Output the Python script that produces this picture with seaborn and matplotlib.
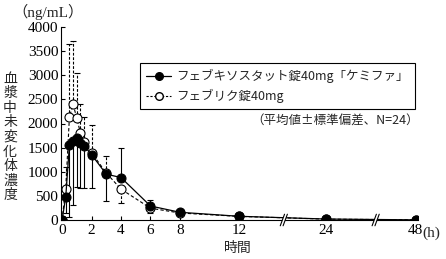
import numpy as np
import pandas as pd
import matplotlib
matplotlib.use("Agg")
import matplotlib.pyplot as plt
import seaborn as sns
from matplotlib.lines import Line2D
from matplotlib.patches import Polygon

# ---------------- data ----------------
times = [0, 0.25, 0.5, 0.75, 1, 1.25, 1.5, 2, 3, 4, 6, 8, 12, 24, 48]
kemifa_mean = [0, 470, 1550, 1640, 1690, 1590, 1540, 1355, 950, 880, 290, 160, 77, 20, 3]
kemifa_sd = [0, 330, 1480, 1330, 1000, 930, 880, 700, 555, 610, 115, 40, 30, 10, 2]
feburic_mean = [0, 640, 2130, 2400, 2110, 1800, 1625, 1395, 975, 640, 245, 145, 75, 18, 3]
feburic_sd = [0, 450, 1520, 1320, 930, 600, 520, 575, 350, 290, 95, 40, 25, 10, 2]
xticks = [0, 2, 4, 6, 8, 12, 24, 48]
yticks = [0, 500, 1000, 1500, 2000, 2500, 3000, 3500, 4000]
label_kemifa = "フェブキソスタット錠40mg「ケミファ」"
label_feburic = "フェブリク錠40mg"

# ------------- broken-axis scale -------------
A = 0.4915  # compression 12-24 h
B = 0.2542  # compression 24-48 h
X1 = 12 + 12 * A


def fwd(x):
    x = np.asarray(x, dtype=float)
    return np.where(x <= 12, x, np.where(x <= 24, 12 + (x - 12) * A, X1 + (x - 24) * B))


def inv(u):
    u = np.asarray(u, dtype=float)
    return np.where(u <= 12, u, np.where(u <= X1, 12 + (u - 12) / A, 24 + (u - X1) / B))


sns.set_style("ticks")
plt.rcParams["font.family"] = ["Liberation Serif", "Noto Sans CJK JP", "DejaVu Sans"]
JP = ["Noto Sans CJK JP", "Liberation Serif"]

fig = plt.figure(figsize=(4.46, 2.59), dpi=100)
ax = fig.add_axes([61 / 446, 1 - 220 / 259, 357 / 446, 193 / 259])
ax.set_xscale("function", functions=(fwd, inv))

df_k = pd.DataFrame({"t": times, "c": kemifa_mean})
df_f = pd.DataFrame({"t": times, "c": feburic_mean})

# one-sided error bars: the upper series gets the upward bar
km = np.array(kemifa_mean, float); ks = np.array(kemifa_sd, float)
fm = np.array(feburic_mean, float); fs = np.array(feburic_sd, float)
k_up = km >= fm
k_low = np.where(k_up, 0, ks); k_high = np.where(k_up, ks, 0)
f_low = np.where(k_up, fs, 0); f_high = np.where(k_up, 0, fs)

eb = ax.errorbar(times, feburic_mean, yerr=[f_low, f_high], fmt="none",
                 ecolor="black", elinewidth=0.8, capsize=2.5, capthick=0.8, zorder=2)
eb[2][0].set_linestyle((0, (2.5, 1.5)))
ax.errorbar(times, kemifa_mean, yerr=[k_low, k_high], fmt="none",
            ecolor="black", elinewidth=0.8, capsize=2.5, capthick=0.8, zorder=2)

sns.lineplot(data=df_f, x="t", y="c", ax=ax, color="black", linewidth=0.8,
             linestyle=(0, (3, 2)), marker="o", markersize=6.5,
             markerfacecolor="white", markeredgecolor="black",
             markeredgewidth=0.8, zorder=3)
sns.lineplot(data=df_k, x="t", y="c", ax=ax, color="black", linewidth=0.9,
             marker="o", markersize=6.5, markerfacecolor="black",
             markeredgecolor="black", zorder=4)

ax.set_xlim(-0.07, 48.6)
ax.set_ylim(0, 4000)
ax.set_xticks(xticks)
ax.set_xticklabels([str(v) for v in xticks])
ax.set_yticks(yticks)
ax.set_yticklabels([str(v) for v in yticks])
ax.tick_params(axis="both", direction="in", length=3, width=0.8, labelsize=11,
               colors="black", pad=2)
ax.tick_params(axis="x", pad=3)
for s in ["top", "right"]:
    ax.spines[s].set_visible(False)
for s in ["left", "bottom"]:
    ax.spines[s].set_linewidth(0.8)
    ax.spines[s].set_color("black")
ax.set_xlabel("")
ax.set_ylabel("")

# break marks on the axis
to_axes = ax.transAxes.inverted()
for tb in [18.2, 37.3]:
    xa = to_axes.transform(ax.transData.transform((tb, 0)))[0]
    dx, dy, g = 0.006, 0.03, 0.008
    poly = Polygon([(xa - dx - g / 2, -dy), (xa + dx - g / 2, dy),
                    (xa + dx + g / 2, dy), (xa - dx + g / 2, -dy)],
                   closed=True, transform=ax.transAxes, facecolor="white",
                   edgecolor="none", clip_on=False, zorder=6)
    ax.add_patch(poly)
    for off in (-g / 2, g / 2):
        ax.plot([xa - dx + off, xa + dx + off], [-dy, dy], transform=ax.transAxes,
                color="black", linewidth=0.8, clip_on=False, zorder=7)

# legend
handles = [
    Line2D([], [], color="black", linewidth=0.9, marker="o", markersize=5.5,
           markerfacecolor="black", markeredgecolor="black"),
    Line2D([], [], color="black", linewidth=0.8, linestyle=(0, (2, 1.5)), marker="o",
           markersize=5.5, markerfacecolor="white", markeredgecolor="black"),
]
leg = ax.legend(handles, [label_kemifa, label_feburic], loc="upper left",
                bbox_to_anchor=(140 / 446, 1 - 63 / 259), bbox_transform=fig.transFigure,
                borderaxespad=0, frameon=True, fancybox=False, edgecolor="black",
                framealpha=1, handlelength=2.0, handletextpad=0.4, borderpad=0.5,
                labelspacing=0.45, prop={"family": JP, "size": 9})
leg.get_frame().set_linewidth(0.8)

fig.text(419 / 446, 1 - 121 / 259, "（平均値±標準偏差、N=24）", ha="right", va="center",
         fontsize=9, family=JP)
fig.text(12 / 446, 1 - 12 / 259, "（ng/mL）", ha="left", va="center", fontsize=11,
         family=["Liberation Serif", "Noto Sans CJK JP"])
fig.text(10 / 446, 1 - 137 / 259, "\n".join("血漿中未変化体濃度"), ha="center",
         va="center", fontsize=10, family=JP, linespacing=1.05)
fig.text(238 / 446, 1 - 248 / 259, "時間", ha="center", va="center", fontsize=10,
         family=JP)
fig.text(422 / 446, 1 - 233 / 259, "(h)", ha="left", va="center", fontsize=11,
         family="Liberation Serif")

fig.savefig("out.png", dpi=100)
